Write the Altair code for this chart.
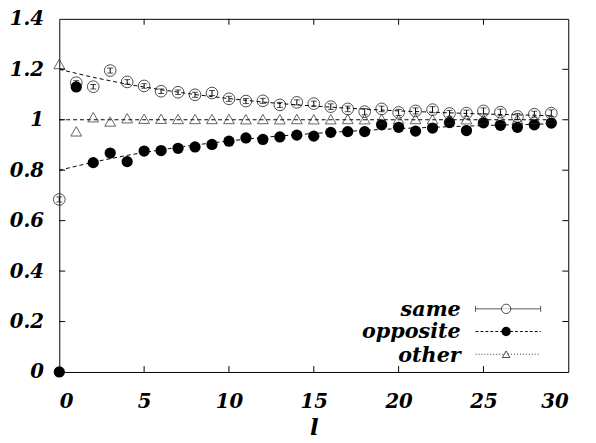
import altair as alt
import pandas as pd

# ---- data ----
l_vals = list(range(30))
same = [0.684, 1.147, 1.131, 1.195, 1.150, 1.134, 1.113, 1.109, 1.099, 1.106,
        1.083, 1.074, 1.075, 1.059, 1.069, 1.064, 1.052, 1.043, 1.032, 1.043,
        1.029, 1.035, 1.040, 1.025, 1.026, 1.035, 1.030, 1.013, 1.022, 1.026]
same_err = [0.010, 0.008, 0.009, 0.010, 0.009, 0.009, 0.009, 0.009, 0.010, 0.010,
            0.010, 0.010, 0.010, 0.010, 0.010, 0.010, 0.011, 0.011, 0.012, 0.011,
            0.012, 0.012, 0.012, 0.012, 0.012, 0.012, 0.012, 0.012, 0.012, 0.013]
opposite = [0.0, 1.130, 0.830, 0.868, 0.834, 0.876, 0.878, 0.887, 0.892, 0.902,
            0.915, 0.928, 0.922, 0.932, 0.939, 0.935, 0.950, 0.953, 0.953, 0.980,
            0.970, 0.955, 0.967, 0.989, 0.957, 0.988, 0.978, 0.970, 0.980, 0.987]
other = [1.221, 0.954, 1.010, 0.993, 1.006, 1.004, 1.004, 1.003, 1.003, 1.003,
         1.003, 1.002, 1.003, 1.002, 1.003, 1.002, 1.002, 1.003, 1.002, 1.003,
         1.002, 1.003, 1.002, 1.003, 1.002, 1.002, 1.003, 1.002, 1.003, 1.003]

# dashed fit curves
fit_l = [0, 2, 4, 6, 8, 10, 12, 14, 16, 18, 20, 22, 24, 26, 28, 29]
fit_same = [1.200, 1.168, 1.141, 1.119, 1.100, 1.084, 1.070, 1.059, 1.050,
            1.042, 1.035, 1.030, 1.025, 1.021, 1.018, 1.016]
fit_opp = [0.800, 0.832, 0.859, 0.881, 0.900, 0.916, 0.930, 0.941, 0.950,
           0.958, 0.965, 0.970, 0.975, 0.979, 0.982, 0.984]
fit_other = [1.0] * len(fit_l)

x_ticks = [0, 5, 10, 15, 20, 25, 30]
y_ticks = [0, 0.2, 0.4, 0.6, 0.8, 1, 1.2, 1.4]

legend_labels = ["same", "opposite", "other"]

FONT = "DejaVu Serif"
W, H = 516, 358
FS = 20

pts = pd.DataFrame({"l": l_vals, "same": same, "err": same_err,
                    "opposite": opposite, "other": other})
pts["lo"] = pts["same"] - pts["err"]
pts["hi"] = pts["same"] + pts["err"]

fits = pd.DataFrame({
    "l": fit_l * 3,
    "v": fit_same + fit_opp + fit_other,
    "s": ["same"] * len(fit_l) + ["opposite"] * len(fit_l) + ["other"] * len(fit_l),
})

xs = alt.Scale(domain=[0, 30], nice=False, zero=False)
ys = alt.Scale(domain=[0, 1.4], nice=False, zero=False)

ax_x = alt.Axis(values=x_ticks, ticks=False, tickSize=0, domain=False, grid=False,
                labelFont=FONT, labelFontSize=FS, labelFontWeight="bold",
                labelFontStyle="italic", labelColor="black", labelPadding=20,
                title="l", titleFont=FONT, titleFontSize=23, titleFontWeight="bold",
                titleFontStyle="italic", titleColor="black",
                titleBaseline="alphabetic", titleY=63)
ax_y = alt.Axis(values=y_ticks, format="~g", ticks=False, tickSize=0, domain=False,
                grid=False, labelFont=FONT, labelFontSize=FS, labelFontWeight="bold",
                labelFontStyle="italic", labelColor="black", labelPadding=16,
                title=None)

base = alt.Chart(pts)

fit_lines = alt.Chart(fits).mark_line(color="black", strokeWidth=1,
                                       strokeDash=[4, 3], clip=True).encode(
    x=alt.X("l:Q", scale=xs, axis=ax_x),
    y=alt.Y("v:Q", scale=ys, axis=ax_y),
    detail="s:N",
)

err_rule = base.mark_rule(color="black", strokeWidth=1).encode(
    x=alt.X("l:Q", scale=xs), y=alt.Y("lo:Q", scale=ys), y2="hi:Q")
cap_lo = base.mark_tick(color="black", orient="horizontal", size=6, thickness=1).encode(
    x=alt.X("l:Q", scale=xs), y=alt.Y("lo:Q", scale=ys))
cap_hi = base.mark_tick(color="black", orient="horizontal", size=6, thickness=1).encode(
    x=alt.X("l:Q", scale=xs), y=alt.Y("hi:Q", scale=ys))

same_pts = base.mark_point(shape="circle", filled=False, color="black", size=140,
                           strokeWidth=1, clip=False).encode(
    x=alt.X("l:Q", scale=xs), y=alt.Y("same:Q", scale=ys))
opp_pts = base.mark_point(shape="circle", filled=True, color="black", size=130,
                          opacity=1, clip=False).encode(
    x=alt.X("l:Q", scale=xs), y=alt.Y("opposite:Q", scale=ys))
oth_pts = base.mark_point(shape="triangle-up", filled=False, color="#222", size=120,
                          strokeWidth=1, clip=False).encode(
    x=alt.X("l:Q", scale=xs), y=alt.Y("other:Q", scale=ys))

# inward ticks on all four sides
xt = alt.Chart(pd.DataFrame({"t": x_ticks[1:-1]}))
yt = alt.Chart(pd.DataFrame({"t": y_ticks[1:-1]}))
tick_b = xt.mark_rule(color="black", strokeWidth=1).encode(
    x=alt.X("t:Q", scale=xs), y=alt.value(H), y2=alt.value(H - 6))
tick_t = xt.mark_rule(color="black", strokeWidth=1).encode(
    x=alt.X("t:Q", scale=xs), y=alt.value(0), y2=alt.value(6))
tick_l = yt.mark_rule(color="black", strokeWidth=1).encode(
    y=alt.Y("t:Q", scale=ys), x=alt.value(0), x2=alt.value(6))
tick_r = yt.mark_rule(color="black", strokeWidth=1).encode(
    y=alt.Y("t:Q", scale=ys), x=alt.value(W), x2=alt.value(W - 6))

# manual legend
LX_TEXT, LX0, LX1, LXM = 407, 422, 488, 453
rows_y = [294, 317, 340]
text_base = [301, 324, 348]
leg = []
for lab, yy, tb in zip(legend_labels, rows_y, text_base):
    leg.append(alt.Chart().mark_text(text=lab, align="right", baseline="alphabetic",
                                     font=FONT, fontSize=21, fontWeight="bold",
                                     fontStyle="italic", color="black").encode(
        x=alt.value(LX_TEXT), y=alt.value(tb)))
# same: solid grey with caps
leg.append(alt.Chart().mark_rule(color="#555", strokeWidth=1).encode(
    x=alt.value(LX0), x2=alt.value(LX1), y=alt.value(rows_y[0])))
for cx in (LX0, LX1):
    leg.append(alt.Chart().mark_rule(color="#555", strokeWidth=1).encode(
        x=alt.value(cx), y=alt.value(rows_y[0] - 3), y2=alt.value(rows_y[0] + 3)))
leg.append(alt.Chart().mark_point(shape="circle", filled=True, fill="white",
                                  stroke="black", size=90, strokeWidth=1).encode(
    x=alt.value(LXM), y=alt.value(rows_y[0])))
# opposite: dashed
leg.append(alt.Chart().mark_rule(color="black", strokeWidth=1, strokeDash=[3, 2]).encode(
    x=alt.value(LX0), x2=alt.value(LX1), y=alt.value(rows_y[1])))
leg.append(alt.Chart().mark_point(shape="circle", filled=True, color="black",
                                  size=90, opacity=1).encode(
    x=alt.value(LXM), y=alt.value(rows_y[1])))
# other: dotted
leg.append(alt.Chart().mark_rule(color="#333", strokeWidth=1, strokeDash=[1, 2]).encode(
    x=alt.value(LX0), x2=alt.value(LX1), y=alt.value(rows_y[2])))
leg.append(alt.Chart().mark_point(shape="triangle-up", filled=True, fill="white",
                                  stroke="black", size=60, strokeWidth=1).encode(
    x=alt.value(LXM), y=alt.value(rows_y[2])))

chart = alt.layer(
    fit_lines, err_rule, cap_lo, cap_hi, same_pts, opp_pts, oth_pts,
    tick_b, tick_t, tick_l, tick_r, *leg
).properties(
    width=W, height=H,
    autosize=alt.AutoSizeParams(type="none"),
    padding={"left": 52, "top": 8, "right": 20, "bottom": 70},
    background="white",
).configure_view(stroke="black", strokeWidth=1)

chart.save("out.html", embed_options={"renderer": "svg", "actions": False})
